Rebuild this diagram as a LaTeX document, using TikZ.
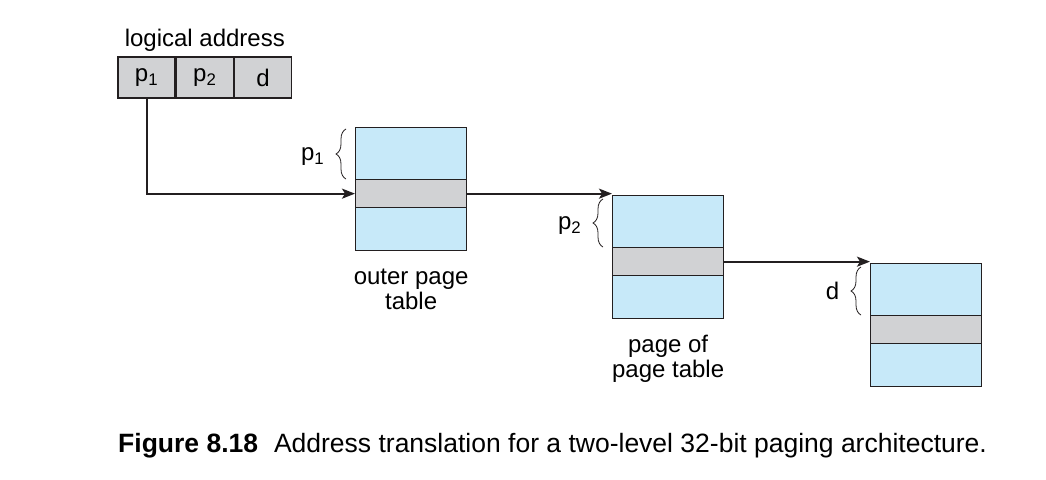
\documentclass[tikz,border=0pt]{standalone}
\usepackage{fontspec}
\setmainfont{Liberation Sans}
\definecolor{TableBlue}{RGB}{199,233,249}
\definecolor{EntryGray}{RGB}{209,210,212}
\definecolor{LineDark}{RGB}{35,31,32}
\usetikzlibrary{positioning, arrows.meta, decorations.pathreplacing, calc}

\begin{document}
\begin{tikzpicture}[x=1pt, y=-1pt,
    tbl/.style={draw=LineDark, line width=1.3pt, fill=TableBlue, minimum width=111pt, minimum height=123pt, inner sep=0pt, anchor=north west},
    entry/.style={draw=LineDark, line width=1.3pt, fill=EntryGray, minimum width=111pt, minimum height=28pt, inner sep=0pt, anchor=north west},
    field/.style={draw=LineDark, line width=1.3pt, fill=EntryGray, minimum width=57pt, minimum height=41pt, inner sep=0pt, font=\fontsize{24}{25}\selectfont},
    lbl/.style={font=\fontsize{24}{25}\selectfont, align=center},
    brc/.style={decorate, decoration={brace, amplitude=10pt}, line width=0.8pt, draw=LineDark},
    arr/.style={-{Stealth[length=13pt, width=10pt, inset=3pt]}, line width=2pt, draw=LineDark}]
  \useasboundingbox (0,0) rectangle (1046,479);
  \node[field] (f1) at (146.5,77.5) {p\textsubscript{1}};
  \node[field, right=0pt of f1] (f2) {p\textsubscript{2}};
  \node[field, right=0pt of f2] (f3) {d};
  \node[lbl, above=1pt of f2] (la) {logical address};
  \foreach \tname/\tx/\ty in {outer/355/127, mid/612/195, leaf/870/263} {
    \node[tbl] (\tname) at (\tx,\ty) {};
    \node[entry] (\tname-e) at (\tx,\ty+52) {};
  }
  \draw[brc] ([xshift=-9pt]outer-e.north west) -- node[lbl, left=18pt, yshift=-3pt] (b1) {p\textsubscript{1}} ([xshift=-9pt, yshift=-2pt]outer.north west);
  \draw[brc] ([xshift=-9pt]mid-e.north west) -- node[lbl, left=18pt, yshift=-3pt] (b2) {p\textsubscript{2}} ([xshift=-9pt, yshift=-4pt]mid.north west);
  \draw[brc] ([xshift=-9pt]leaf-e.north west) -- node[lbl, left=18pt] (b3) {d} ([xshift=-9pt, yshift=-4pt]leaf.north west);
  \draw[arr] (f1.south) |- (outer-e.west);
  \draw[arr] (outer-e.east) -- (outer-e.east -| mid.west);
  \draw[arr] (mid-e.east) -- (mid-e.east -| leaf.west);
  \node[lbl, below=14pt of outer] (outer-lbl) {outer page\\table};
  \node[lbl, below=12pt of mid] (mid-lbl) {page of\\page table};
  \node[anchor=base west, inner sep=0pt, font=\fontsize{26.5}{30}\selectfont] (cap) at (118,452)
    {\textbf{Figure 8.18}\hspace{0.6em}Address translation for a two-level 32-bit paging architecture.};
\end{tikzpicture}
\end{document}
